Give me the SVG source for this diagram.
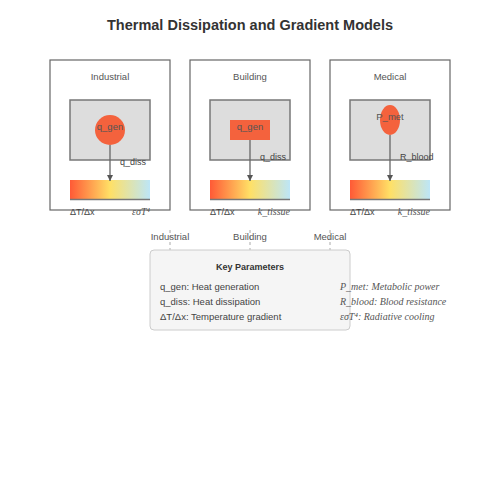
<svg xmlns="http://www.w3.org/2000/svg" width="500" height="500" viewBox="0 0 500 500">
<defs>
<linearGradient id="grad" x1="0" y1="0" x2="1" y2="0">
<stop offset="0" stop-color="#ff5a36"/>
<stop offset="0.5" stop-color="#ffe066"/>
<stop offset="1" stop-color="#bde6f7"/>
</linearGradient>
<marker id="arr" viewBox="0 0 10 10" refX="10" refY="5" markerWidth="5" markerHeight="5" orient="auto">
<path d="M0,0 L10,5 L0,10 z" fill="#555"/>
</marker>
<style>
.panel{fill:#fff;stroke:#666;stroke-width:1.2}
.inner{fill:#ddd;stroke:#777;stroke-width:1.5}
.src{fill:#f4623d}
.lbl{font-family:"Liberation Sans",Arial,sans-serif;font-size:9.5px;fill:#555;text-anchor:middle}
.sm{font-family:"Liberation Sans",Arial,sans-serif;font-size:9px;fill:#444}
.lg{font-family:"Liberation Sans",Arial,sans-serif;font-size:9.5px;fill:#444}
.it{font-family:"Liberation Serif","Times New Roman",serif;font-style:italic;font-size:10px;fill:#555}
.bar{fill:url(#grad)}
.base{stroke:#777;stroke-width:1.5}
.flow{stroke:#666;stroke-width:1.3;marker-end:url(#arr)}
.dash{stroke:#aaa;stroke-width:1;stroke-dasharray:3,3}
</style>
</defs>
<rect width="500" height="500" fill="#fff"/>
<text x="250" y="30" text-anchor="middle" font-family="Liberation Sans,Arial,sans-serif" font-weight="bold" font-size="14.5" fill="#333">Thermal Dissipation and Gradient Models</text>

<g id="industrial">
<rect class="panel" x="50" y="60" width="120" height="150"/>
<text class="lbl" x="110" y="80">Industrial</text>
<rect class="inner" x="70" y="100" width="80" height="60"/>
<circle class="src" cx="110" cy="130" r="15"/>
<text class="lbl" x="110" y="130" fill="#444">q_gen</text>
<text class="sm" x="120" y="165">q_diss</text>
<rect class="bar" x="70" y="180" width="80" height="20"/>
<line class="base" x1="70" y1="199.5" x2="150" y2="199.5"/>
<text class="sm" x="70" y="215">ΔT/Δx</text>
<text class="it" x="150" y="215" text-anchor="end">εσT⁴</text>
</g>

<g id="building">
<rect class="panel" x="190" y="60" width="120" height="150"/>
<text class="lbl" x="250" y="80">Building</text>
<rect class="inner" x="210" y="100" width="80" height="60"/>
<rect class="src" x="230" y="120" width="40" height="20"/>
<text class="lbl" x="250" y="130" fill="#444">q_gen</text>
<text class="sm" x="260" y="160">q_diss</text>
<rect class="bar" x="210" y="180" width="80" height="20"/>
<line class="base" x1="210" y1="199.5" x2="290" y2="199.5"/>
<text class="sm" x="210" y="215">ΔT/Δx</text>
<text class="it" x="290" y="215" text-anchor="end">k_tissue</text>
</g>

<g id="medical">
<rect class="panel" x="330" y="60" width="120" height="150"/>
<text class="lbl" x="390" y="80">Medical</text>
<rect class="inner" x="350" y="100" width="80" height="60"/>
<ellipse class="src" cx="390" cy="120" rx="10" ry="15"/>
<text class="lbl" x="390" y="120" fill="#444">P_met</text>
<text class="sm" x="400" y="160">R_blood</text>
<rect class="bar" x="350" y="180" width="80" height="20"/>
<line class="base" x1="350" y1="199.5" x2="430" y2="199.5"/>
<text class="sm" x="350" y="215">ΔT/Δx</text>
<text class="it" x="430" y="215" text-anchor="end">k_tissue</text>
</g>

<g id="connectors">
<line class="flow" x1="110" y1="145" x2="110" y2="181"/>
<line class="flow" x1="250" y1="140" x2="250" y2="181"/>
<line class="flow" x1="390" y1="135" x2="390" y2="181"/>
<line class="dash" x1="170" y1="230" x2="170" y2="250"/>
<line class="dash" x1="250" y1="230" x2="250" y2="250"/>
<line class="dash" x1="330" y1="230" x2="330" y2="250"/>
</g>

<g id="axis-labels">
<text class="lbl" x="170" y="240" fill="#444">Industrial</text>
<text class="lbl" x="250" y="240" fill="#444">Building</text>
<text class="lbl" x="330" y="240" fill="#444">Medical</text>
</g>

<g id="legend">
<rect x="150" y="250" width="200" height="80" rx="4" fill="#f5f5f5" stroke="#ccc"/>
<text x="250" y="270" text-anchor="middle" font-family="Liberation Sans,Arial,sans-serif" font-weight="bold" font-size="9" fill="#333">Key Parameters</text>
<text class="lg" x="160" y="290">q_gen: Heat generation</text>
<text class="lg" x="160" y="305">q_diss: Heat dissipation</text>
<text class="lg" x="160" y="320">ΔT/Δx: Temperature gradient</text>
<text class="it" x="340" y="290">P_met: Metabolic power</text>
<text class="it" x="340" y="305">R_blood: Blood resistance</text>
<text class="it" x="340" y="320">εσT⁴: Radiative cooling</text>
</g>
</svg>
